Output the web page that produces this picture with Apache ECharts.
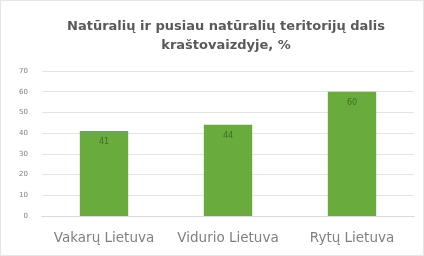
<!DOCTYPE html>
<html>
<head>
<meta charset="utf-8">
<script src="https://cdn.jsdelivr.net/npm/echarts@6/dist/echarts.min.js"></script>
<style>
  html, body { margin: 0; padding: 0; background: #fff; }
  #chart { width: 424px; height: 256px; box-sizing: border-box; border: 1px solid #e6e6e6; }
</style>
</head>
<body>
<div id="chart"></div>
<script>
var regions = ['Vakarų Lietuva', 'Vidurio Lietuva', 'Rytų Lietuva'];
var shares = [41, 44, 60];

var myChart = echarts.init(document.getElementById('chart'));

var option = {
    animation: false,
    title: {
        text: 'Natūralių ir pusiau natūralių teritorijų dalis\nkraštovaizdyje, %',
        left: 220,
        textAlign: 'center',
        top: 11,
        textStyle: {
            fontFamily: 'DejaVu Sans',
            fontSize: 13,
            fontWeight: 'bold',
            color: '#595959',
            lineHeight: 19
        }
    },
    grid: {
        left: 41,
        right: 9,
        top: 70,
        bottom: 39
    },
    xAxis: {
        type: 'category',
        data: regions,
        axisTick: { show: false },
        axisLine: { lineStyle: { color: '#d9d9d9' } },
        axisLabel: {
            interval: 0,
            hideOverlap: false,
            fontFamily: 'DejaVu Sans',
            fontSize: 13.5,
            color: '#7f7f7f',
            margin: 15
        }
    },
    yAxis: {
        type: 'value',
        min: 0,
        max: 70,
        interval: 10,
        axisLabel: {
            fontFamily: 'DejaVu Sans',
            fontSize: 7,
            color: '#7f7f7f',
            margin: 14
        },
        splitLine: { lineStyle: { color: '#e4e4e4' } }
    },
    series: [{
        type: 'bar',
        data: shares,
        barWidth: '39%',
        itemStyle: { color: '#6aab3e' },
        label: {
            show: true,
            position: 'insideTop',
            distance: 7,
            fontFamily: 'DejaVu Sans',
            fontSize: 8,
            color: '#3f6e24'
        }
    }]
};
myChart.setOption(option);
</script>
</body>
</html>
